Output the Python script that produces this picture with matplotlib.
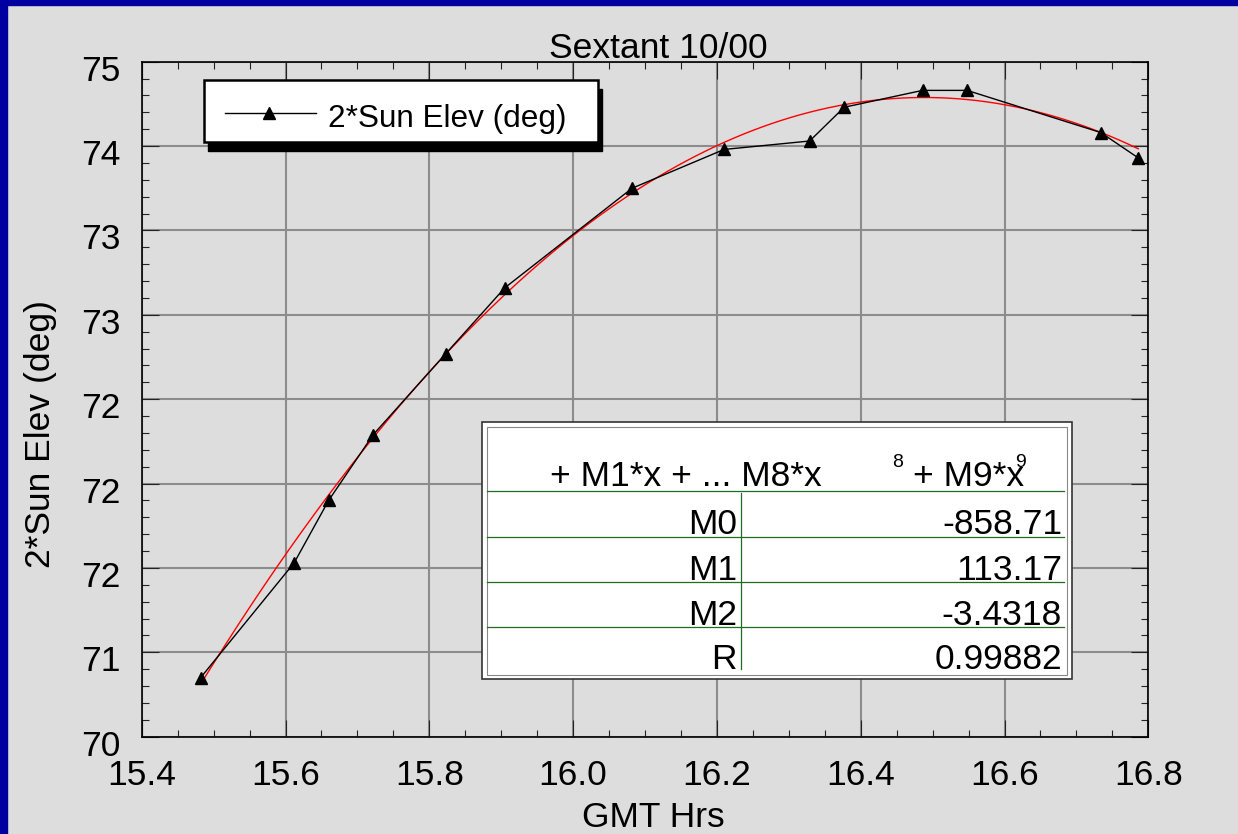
import numpy as np
import matplotlib
matplotlib.use("Agg")
import matplotlib.pyplot as plt
from matplotlib.patches import Rectangle
from matplotlib.lines import Line2D
from matplotlib.ticker import MultipleLocator
from matplotlib.transforms import Affine2D, ScaledTranslation

plt.rcParams["font.family"] = ["Liberation Sans", "DejaVu Sans"]

# sextant readings: time (GMT hours) and twice the sun elevation (deg)
gmt_hrs = [15.482, 15.612, 15.660, 15.722, 15.823, 15.905, 16.082,
           16.210, 16.329, 16.377, 16.486, 16.548, 16.734, 16.786]
sun_elev2 = [70.85, 71.53, 71.90, 72.29, 72.77, 73.16, 73.75,
             73.98, 74.03, 74.23, 74.33, 74.33, 74.08, 73.93]

# polynomial fit y = M0 + M1*x + M2*x^2
fit_names = ["M0", "M1", "M2"]
fit_coef = [-858.71, 113.17, -3.4318]
fit_r = 0.99882

x_ticks = [15.4, 15.6, 15.8, 16.0, 16.2, 16.4, 16.6, 16.8]
x_tick_labels = ["15.4", "15.6", "15.8", "16.0", "16.2", "16.4", "16.6", "16.8"]
y_ticks = [70.5, 71.0, 71.5, 72.0, 72.5, 73.0, 73.5, 74.0, 74.5]
y_tick_labels = ["70", "71", "72", "72", "72", "73", "73", "74", "75"]

W, H = 1238, 834
BG = "#dcdddc"
FS = 25.5

fig = plt.figure(figsize=(W / 100, H / 100), dpi=100, facecolor=BG)
# pixel coordinates with the origin at the top-left corner
px = Affine2D().scale(1, -1).translate(0, H)

# blue frame on the top and left edges
fig.add_artist(Rectangle((0, 0), W, 4.5, transform=px, color="#0000a0", zorder=10))
fig.add_artist(Rectangle((0, 0), 7.3, H, transform=px, color="#0000a0", zorder=10))

L, R, T, B = 141.7, 1148.3, 61.7, 736.7
ax = fig.add_axes([L / W, 1 - B / H, (R - L) / W, (B - T) / H])
ax.set_facecolor(BG)

xs = np.linspace(min(gmt_hrs), max(gmt_hrs), 300)
ax.plot(xs, np.polyval(fit_coef[::-1], xs), color="red", lw=1, zorder=3)
ax.plot(gmt_hrs, sun_elev2, color="black", lw=1, marker="^", ms=8, zorder=4)

ax.set_xlim(15.4, 16.8)
ax.set_ylim(70.5, 74.5)
ax.set_xticks(x_ticks, x_tick_labels)
ax.set_yticks(y_ticks, y_tick_labels)
ax.xaxis.set_minor_locator(MultipleLocator(0.05))
ax.yaxis.set_minor_locator(MultipleLocator(0.1))
ax.grid(True, which="major", color="#8c8c8c", lw=1.5)
ax.set_axisbelow(True)
ax.tick_params(which="both", direction="in", top=True, right=True,
               color="#222222", width=0.8, labelsize=FS)
ax.tick_params(which="major", length=12)
ax.tick_params(which="minor", length=5)
ax.tick_params(axis="x", pad=16)
ax.tick_params(axis="y", pad=15)
for s in ax.spines.values():
    s.set_color("black")
    s.set_linewidth(1.2)
shift = ScaledTranslation(0, -0.06, fig.dpi_scale_trans)
for lab in ax.get_yticklabels():
    lab.set_transform(lab.get_transform() + shift)

fig.text(658, 58, "Sextant 10/00", transform=px, ha="center", va="baseline", fontsize=FS)
fig.text(653, 827, "GMT Hrs", transform=px, ha="center", va="baseline", fontsize=FS)
fig.text(50, 434, "2*Sun Elev (deg)", transform=px, rotation=90,
         rotation_mode="anchor", ha="center", va="baseline", fontsize=FS)

# legend box with a solid drop shadow
fig.add_artist(Rectangle((208, 89), 394, 62, transform=px, color="black", zorder=5))
fig.add_artist(Rectangle((204, 80), 394, 62, transform=px, facecolor="white",
                         edgecolor="black", lw=1.8, zorder=6))
fig.add_artist(Line2D([225, 316], [113, 113], transform=px, color="black", lw=1, zorder=7))
fig.add_artist(Line2D([269], [113], transform=px, color="black", marker="^", ms=8, zorder=7))
fig.text(328, 126.7, "2*Sun Elev (deg)", transform=px, va="baseline", fontsize=22.7, zorder=7)

# fit coefficient table
fig.add_artist(Rectangle((482, 422), 590, 257, transform=px, facecolor="white",
                         edgecolor="#333333", lw=1.2, zorder=5))
fig.add_artist(Rectangle((487, 427), 580, 248, transform=px, facecolor="none",
                         edgecolor="#888888", lw=0.8, zorder=6))
green = "#1f6e1f"
for gy in [490.7, 536.7, 581.7, 627.3]:
    fig.add_artist(Line2D([487, 1064], [gy, gy], transform=px, color=green, lw=0.9, zorder=6))
fig.add_artist(Line2D([740.7, 740.7], [493, 669], transform=px, color=green, lw=0.9, zorder=6))

fig.text(550, 486, "+ M1*x + ... M8*x", transform=px, va="baseline", fontsize=FS, zorder=7)
fig.text(891.7, 467, "8", transform=px, va="baseline", fontsize=14, zorder=7)
fig.text(913, 486, "+ M9*x", transform=px, va="baseline", fontsize=FS, zorder=7)
fig.text(1015, 467, "9", transform=px, va="baseline", fontsize=14, zorder=7)

row_names = fit_names + ["R"]
row_vals = [f"{v:g}" for v in fit_coef] + [f"{fit_r:g}"]
for i, (name, val) in enumerate(zip(row_names, row_vals)):
    by = [534, 580, 625, 669][i]
    fig.text(737, by, name, transform=px, ha="right", va="baseline", fontsize=FS, zorder=7)
    fig.text(1062, by, val, transform=px, ha="right", va="baseline", fontsize=FS, zorder=7)

fig.savefig("out.png", dpi=100, facecolor=BG)
